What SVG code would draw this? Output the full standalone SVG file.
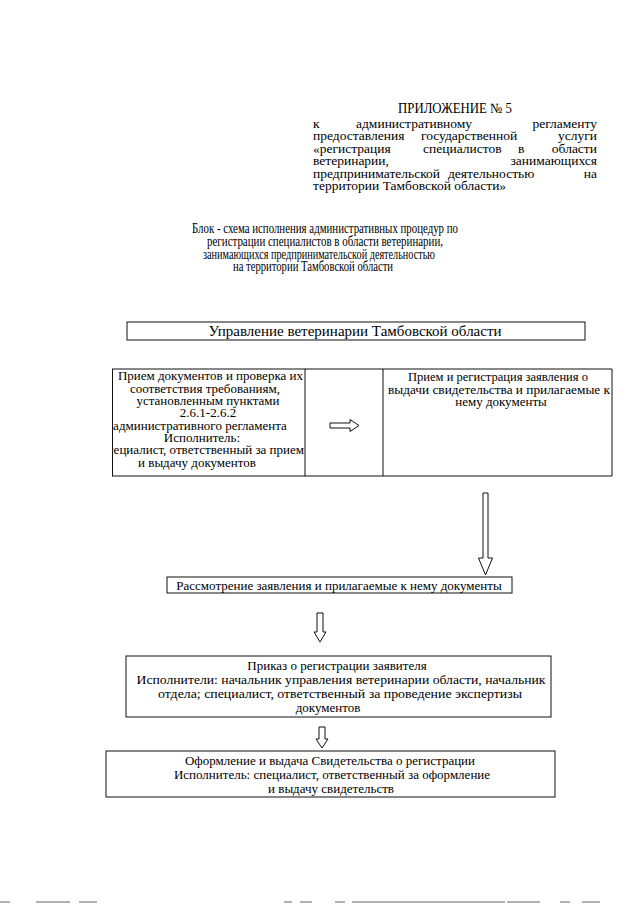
<svg xmlns="http://www.w3.org/2000/svg" width="640" height="905" viewBox="0 0 640 905">
<style>
text{font-family:"Liberation Serif","Times New Roman",serif;fill:#000}
.h{font-size:13.5px}
.t{font-size:13px}
.c{text-anchor:middle}
.e{text-anchor:end}
.box{fill:none;stroke:#111;stroke-width:1}
.arr{fill:#fff;stroke:#111;stroke-width:1}
.art{stroke:#999;stroke-width:1.5}
</style>
<defs>
<clipPath id="leftclip"><rect x="113" y="360" width="192" height="120"/></clipPath>
</defs>
<rect width="640" height="905" fill="#fff"/>

<g id="header">
<text x="398" y="113" font-size="14" textLength="114" lengthAdjust="spacingAndGlyphs">ПРИЛОЖЕНИЕ № 5</text>
<text class="h" x="313" y="127.5">к</text>
<text class="h" x="356" y="127.5">административному</text>
<text class="h e" x="597" y="127.5">регламенту</text>
<text class="h" x="313" y="140">предоставления</text>
<text class="h" x="421" y="140">государственной</text>
<text class="h e" x="597" y="140">услуги</text>
<text class="h" x="313" y="152.5">«регистрация</text>
<text class="h" x="423" y="152.5">специалистов</text>
<text class="h" x="518" y="152.5">в</text>
<text class="h e" x="597" y="152.5">области</text>
<text class="h" x="313" y="165">ветеринарии,</text>
<text class="h e" x="597" y="165">занимающихся</text>
<text class="h" x="313" y="177.5">предпринимательской</text>
<text class="h" x="448" y="177.5">деятельностью</text>
<text class="h e" x="597" y="177.5">на</text>
<text class="h" x="313" y="190">территории Тамбовской области»</text>
</g>

<g id="title">
<text class="c" font-size="14" x="325" y="233" textLength="266" lengthAdjust="spacingAndGlyphs">Блок - схема исполнения административных процедур по</text>
<text class="c" font-size="14" x="325" y="246" textLength="236" lengthAdjust="spacingAndGlyphs">регистрации специалистов в области ветеринарии,</text>
<text class="c" font-size="14" x="319" y="258.5" textLength="232" lengthAdjust="spacingAndGlyphs">занимающихся предпринимательской деятельностью</text>
<text class="c" font-size="14" x="313" y="271" textLength="160" lengthAdjust="spacingAndGlyphs">на территории Тамбовской области</text>
</g>

<g id="node-upravlenie">
<rect class="box" x="127" y="322" width="458" height="18"/>
<text x="355" y="336" font-size="15" text-anchor="middle">Управление ветеринарии Тамбовской области</text>
</g>

<g id="node-priem-dokumentov">
<rect class="box" x="112.5" y="369" width="192.5" height="107"/>
<g clip-path="url(#leftclip)">
<text class="t e" x="303" y="380">Прием документов и проверка  их</text>
<text class="t c" x="205" y="392.5">соответствия требованиям,</text>
<text class="t c" x="208" y="405">установленным пунктами</text>
<text class="t c" x="208" y="417">2.6.1-2.6.2</text>
<text class="t c" x="200" y="429.5">административного регламента</text>
<text class="t c" x="202" y="441.5">Исполнитель:</text>
<text class="t e" x="304" y="454">специалист, ответственный за прием</text>
<text class="t c" x="197" y="466.5">и выдачу документов</text>
</g>
</g>

<g id="node-arrow-cell">
<path class="box" d="M305 369 H383 V476 H305"/>
</g>

<g id="node-priem-registracia">
<path class="box" d="M383 369 H612 V476 H383"/>
<text class="t c" x="498" y="381" textLength="180" lengthAdjust="spacingAndGlyphs">Прием и регистрация заявления  о</text>
<text class="t c" x="499" y="393.5" textLength="222" lengthAdjust="spacingAndGlyphs">выдачи  свидетельства и прилагаемые к</text>
<text class="t c" x="501" y="406">нему документы</text>
</g>

<g id="node-rassmotrenie">
<rect class="box" x="167" y="577" width="345" height="16"/>
<text class="t c" x="339" y="589.5">Рассмотрение заявления и прилагаемые к нему документы</text>
</g>

<g id="node-prikaz">
<rect class="box" x="126" y="656" width="425" height="61"/>
<text class="t c" x="337" y="670" font-size="13.5">Приказ о регистрации заявителя</text>
<text class="t c" x="341" y="684" textLength="409" lengthAdjust="spacingAndGlyphs">Исполнители: начальник управления ветеринарии области, начальник</text>
<text class="t c" x="340" y="698" textLength="364" lengthAdjust="spacingAndGlyphs">отдела; специалист, ответственный за проведение экспертизы</text>
<text class="t c" x="328" y="712">документов</text>
</g>

<g id="node-oformlenie">
<rect class="box" x="106" y="751" width="449" height="46"/>
<text class="t c" x="330" y="765">Оформление и выдача Свидетельства о регистрации</text>
<text class="t c" x="332" y="779">Исполнитель: специалист, ответственный за оформление</text>
<text class="t c" x="331" y="793">и выдачу  свидетельств</text>
</g>

<g id="connectors">
<path class="arr" d="M330 423 H350 V419.5 L359 425.5 L350 431.5 V428 H330 Z"/>
<path class="arr" d="M483 493 H488 V558 H492.5 L485.5 575 L478.5 558 H483 Z"/>
<path class="arr" d="M317 613 H323 V632 H326 L320 642 L314 632 H317 Z"/>
<path class="arr" d="M319 727 H325 V739 H328 L322 748 L316 739 H319 Z"/>
</g>

<g id="scan-marks">
<line class="art" x1="0" y1="902" x2="10" y2="902"/>
<line class="art" x1="36" y1="902" x2="70" y2="902"/>
<line class="art" x1="79" y1="902" x2="97" y2="902"/>
<line class="art" x1="284" y1="902" x2="292" y2="902"/>
<line class="art" x1="300" y1="902" x2="312" y2="902"/>
<line class="art" x1="335" y1="902" x2="345" y2="902"/>
<line class="art" x1="352" y1="902" x2="505" y2="902"/>
<line class="art" x1="507" y1="902" x2="540" y2="902"/>
<line class="art" x1="560" y1="902" x2="570" y2="902"/>
<line class="art" x1="582" y1="902" x2="600" y2="902"/>
</g>
</svg>
